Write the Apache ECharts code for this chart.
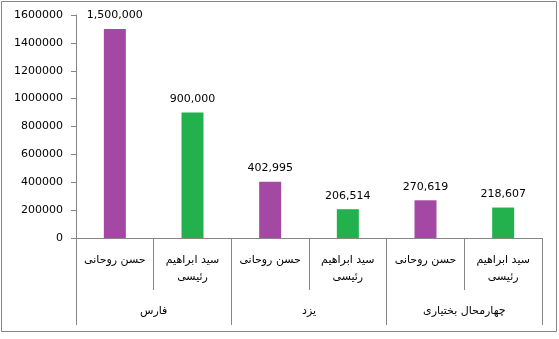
<!DOCTYPE html>
<html>
<head>
<meta charset="utf-8">
<script src="https://cdn.jsdelivr.net/npm/echarts@6/dist/echarts.min.js"></script>
<style>html,body{margin:0;padding:0;background:#fff}#c{width:559px;height:339px}</style>
</head>
<body>
<div id="c"></div>
<script>
var candidates = ['حسن روحانی', 'سید ابراهیم\nرئیسی', 'حسن روحانی', 'سید ابراهیم\nرئیسی', 'حسن روحانی', 'سید ابراهیم\nرئیسی'];
var provinces = ['فارس', 'یزد', 'چهارمحال بختیاری'];
var votes = [1500000, 900000, 402995, 206514, 270619, 218607];
var yTicks = [0, 200000, 400000, 600000, 800000, 1000000, 1200000, 1400000, 1600000];

var barColors = ['#a349a4', '#22b14c', '#a349a4', '#22b14c', '#a349a4', '#22b14c'];
var gray = '#868686';
var font = 'DejaVu Sans';

var chart = echarts.init(document.getElementById('c'), null, {renderer: 'canvas'});
chart.setOption({
  animation: false,
  textStyle: {fontFamily: font},
  grid: {left: 76, right: 17, top: 15, bottom: 101, containLabel: false},
  graphic: [{
    type: 'rect', shape: {x: 1.5, y: 1.5, width: 555, height: 330},
    style: {fill: 'none', stroke: gray, lineWidth: 1}, silent: true
  }],
  yAxis: {
    type: 'value', min: yTicks[0], max: yTicks[yTicks.length - 1], interval: yTicks[1] - yTicks[0],
    axisLine: {show: true, lineStyle: {color: gray}},
    axisTick: {show: true, length: 5, lineStyle: {color: gray}},
    splitLine: {show: false},
    axisLabel: {color: '#000', fontSize: 11, fontFamily: font, margin: 13,
      formatter: function (v) { return String(v); }}
  },
  xAxis: [{
    type: 'category', data: candidates, position: 'bottom',
    axisLine: {show: true, lineStyle: {color: gray}},
    axisTick: {show: true, length: 52, interval: 0, lineStyle: {color: gray}},
    axisLabel: {interval: 0, color: '#000', fontSize: 11, fontFamily: font, lineHeight: 17, margin: 14}
  }, {
    type: 'category', data: provinces, position: 'bottom',
    axisLine: {show: false},
    axisTick: {show: true, length: 87, interval: 0, lineStyle: {color: gray}},
    axisLabel: {interval: 0, color: '#000', fontSize: 11, fontFamily: font, lineHeight: 14, margin: 66}
  }],
  series: [{
    type: 'bar', xAxisIndex: 0, barWidth: 22,
    data: votes.map(function (v, i) { return {value: v, itemStyle: {color: barColors[i]}}; }),
    label: {
      show: true, position: 'top', distance: 8, color: '#000', fontSize: 11, fontFamily: font,
      formatter: function (p) { return p.value.toLocaleString('en-US'); }
    }
  }]
});
</script>
</body>
</html>
